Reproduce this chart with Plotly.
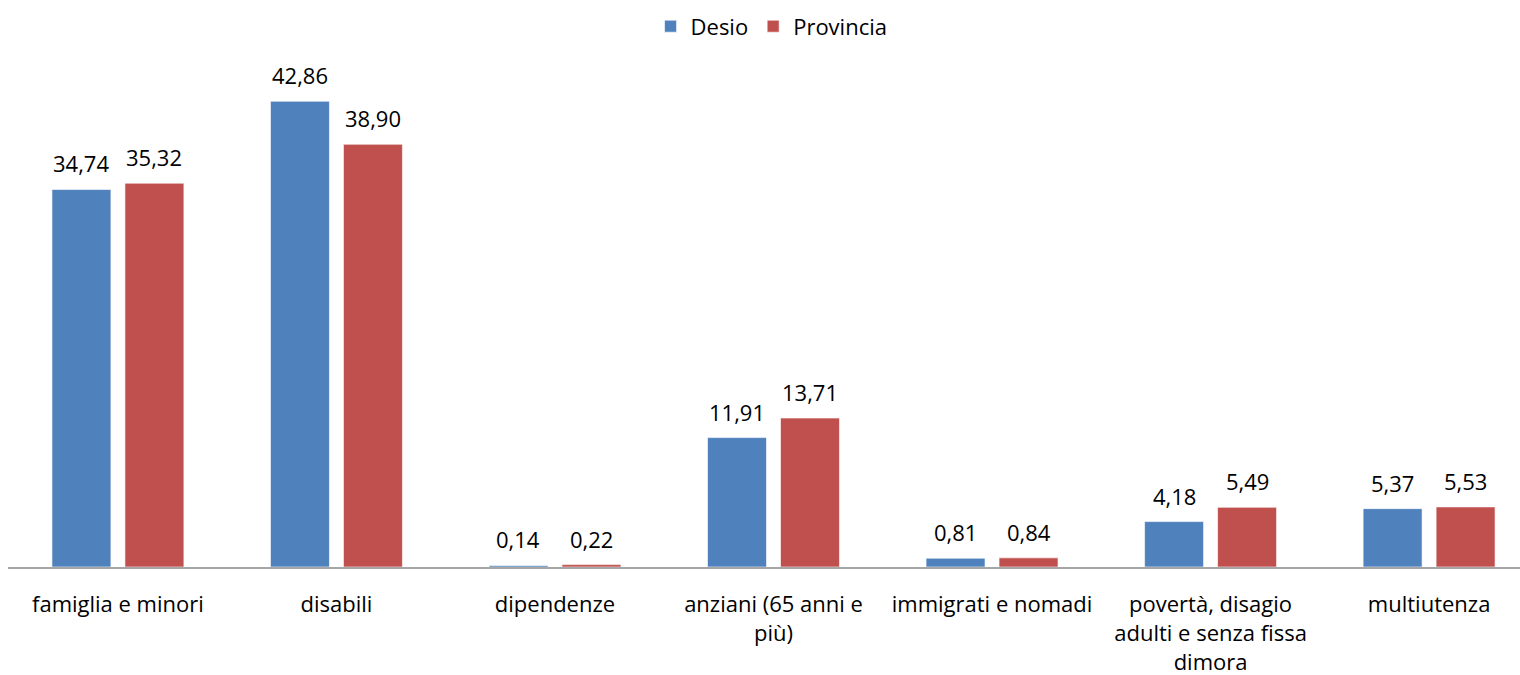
import plotly.graph_objects as go

categories = [
    "famiglia e minori",
    "disabili",
    "dipendenze",
    "anziani (65 anni e<br>più)",
    "immigrati e nomadi",
    "povertà, disagio<br>adulti e senza fissa<br>dimora",
    "multiutenza",
]
desio = [34.74, 42.86, 0.14, 11.91, 0.81, 4.18, 5.37]
provincia = [35.32, 38.90, 0.22, 13.71, 0.84, 5.49, 5.53]

FONT = "Open Sans"
TXT = 22
BARGAP = 0.332
GROUPGAP = 0.192


def fmt(v):
    return f"{v:.2f}".replace(".", ",")


series = [("Desio", desio, "#4F81BD"), ("Provincia", provincia, "#C0504D")]

fig = go.Figure()
for name, vals, color in series:
    fig.add_trace(go.Bar(
        name=name,
        x=list(range(len(categories))),
        y=vals,
        marker=dict(color=color, line=dict(color="rgba(255,255,255,0.6)", width=1)),
    ))

# value labels above each bar, centred on the bar's slot within the group
slot = (1 - BARGAP) / len(series)
for i, (name, vals, color) in enumerate(series):
    offset = (i - (len(series) - 1) / 2) * slot
    for k, v in enumerate(vals):
        fig.add_annotation(
            x=k + offset, y=v,
            text=fmt(v),
            showarrow=False,
            xanchor="center", yanchor="bottom",
            yshift=9,
            font=dict(family=FONT, size=TXT, color="#000000"),
        )

fig.update_layout(
    width=1520,
    height=675,
    margin=dict(l=8, r=0, t=78, b=108),
    paper_bgcolor="white",
    plot_bgcolor="white",
    barmode="group",
    bargap=BARGAP,
    bargroupgap=GROUPGAP,
    font=dict(family=FONT, size=TXT, color="#000000"),
    legend=dict(
        orientation="h",
        x=0.505, xanchor="center",
        y=0.992, yanchor="top",
        yref="container",
        font=dict(family=FONT, size=TXT),
        itemwidth=30,
    ),
    showlegend=True,
)

fig.update_xaxes(
    tickmode="array",
    tickvals=list(range(len(categories))),
    ticktext=categories,
    range=[-0.503, 6.416],
    showline=True,
    linecolor="#A6A6A6",
    linewidth=2,
    ticks="",
    showgrid=False,
    zeroline=False,
    ticklabelstandoff=17,
    tickfont=dict(family=FONT, size=TXT),
)
fig.update_yaxes(
    range=[0, 45],
    visible=False,
    showgrid=False,
    zeroline=False,
)

fig.write_html("out.html")
